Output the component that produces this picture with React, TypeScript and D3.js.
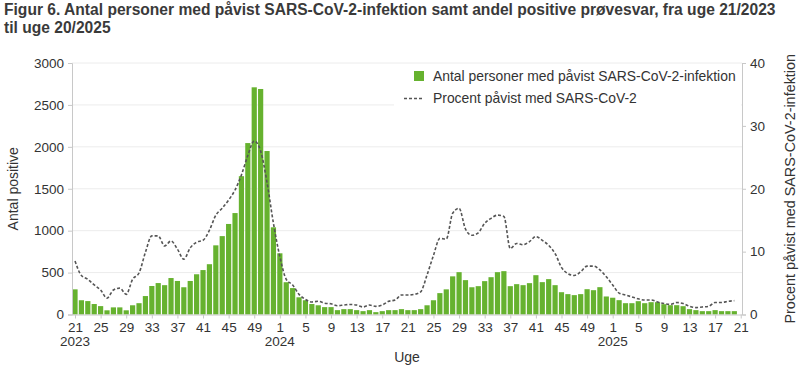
import * as d3 from "d3";
import { useEffect, useRef } from "react";

// weekly counts, week 21/2023 .. week 20/2025
const cases2023 = [
  300, 170, 160, 125, 100, 50, 85, 85, 50, 110, 135, 220, 340, 375, 350, 435,
  400, 325, 400, 480, 530, 600, 825, 935, 1080, 1210, 1650, 2045, 2710, 2690,
  1950, 1040,
];
const cases2024 = [
  730, 385, 315, 205, 170, 125, 110, 88, 88, 52, 64, 64, 52, 40, 52, 28, 40, 52,
  52, 64, 52, 52, 64, 110, 170, 255, 300, 455, 505, 410, 325, 338, 398, 445,
  505, 517, 338, 362, 350, 374, 469, 386, 422, 350, 266, 243, 231, 243, 302,
  290, 326, 215,
];
const cases2025 = [
  200, 171, 135, 135, 159, 135, 147, 147, 123, 111, 111, 99, 64, 52, 40, 40, 52,
  40, 40, 40,
];

// percent positive tests
const pct2023 = [
  8.5, 6.2, 5.6, 4.7, 3.9, 2.6, 3.9, 4.2, 3.2, 5.6, 6.6, 9.9, 12.5, 12.5, 10.9,
  11.7, 10.4, 8.8, 10.6, 11.5, 11.8, 13.4, 15.8, 16.9, 18.2, 19.8, 22.2, 25.3,
  27.6, 26.0, 21.0, 14.5,
];
const pct2024 = [
  9.2, 5.6, 4.7, 3.2, 2.4, 2.0, 2.1, 1.8, 1.7, 1.4, 1.5, 1.6, 1.5, 1.2, 1.5, 1.3,
  1.5, 2.1, 2.3, 3.1, 3.1, 3.2, 3.6, 6.3, 9.4, 12.1, 12.0, 16.1, 16.9, 13.6,
  12.6, 13.0, 14.5, 15.3, 15.8, 15.6, 10.5, 11.3, 11.1, 11.6, 12.4, 11.8, 11.0,
  9.7, 7.5, 6.5, 6.2, 6.8, 7.7, 7.7, 7.1, 6.0,
];
const pct2025 = [
  4.7, 3.4, 3.1, 2.8, 2.5, 2.3, 2.3, 2.0, 1.75, 1.6, 1.9, 1.75, 1.3, 1.1, 1.2,
  1.3, 1.9, 1.9, 2.1, 2.2,
];

const years = ["2023", "2024", "2025"];
const firstWeek2023 = 21;
const leftTicks = [0, 500, 1000, 1500, 2000, 2500, 3000];
const rightTicks = [0, 10, 20, 30, 40];

const titleLines = [
  "Figur 6. Antal personer med påvist SARS-CoV-2-infektion samt andel positive prøvesvar, fra uge 21/2023",
  "til uge 20/2025",
];
const legendBar = "Antal personer med påvist SARS-CoV-2-infektion";
const legendLine = "Procent påvist med SARS-CoV-2";

const FONT = "'Liberation Sans', Arial, sans-serif";
const TEXT = "#333";
const GREEN = "#66b22f";

export default function App() {
  const ref = useRef<SVGSVGElement>(null);

  useEffect(() => {
    const width = 800;
    const height = 372;
    const m = { left: 72, right: 742, top: 63, bottom: 314.5 };

    const cases = [...cases2023, ...cases2024, ...cases2025];
    const pct = [...pct2023, ...pct2024, ...pct2025];
    // week labels, including one extra trailing week (21/2025) for the last tick
    const weeks = [
      ...cases2023.map((_, i) => firstWeek2023 + i),
      ...cases2024.map((_, i) => i + 1),
      ...cases2025.map((_, i) => i + 1),
      cases2025.length + 1,
    ];
    const yearStart = [0, cases2023.length, cases2023.length + cases2024.length];

    const x = d3.scaleLinear().domain([-0.47, weeks.length - 0.8]).range([m.left, m.right]);
    const yL = d3.scaleLinear().domain([0, 3000]).range([m.bottom, m.top]);
    const yR = d3.scaleLinear().domain([0, 40]).range([m.bottom, m.top]);

    const svg = d3.select(ref.current);
    svg.selectAll("*").remove();
    svg.attr("font-family", FONT);

    // title
    svg
      .append("g")
      .selectAll("text")
      .data(titleLines)
      .join("text")
      .attr("x", 4)
      .attr("y", (_, i) => 15 + i * 18)
      .attr("font-size", 15.6)
      .attr("font-weight", "bold")
      .attr("fill", "#3a3a3a")
      .text((d) => d);

    // gridlines
    svg
      .append("g")
      .selectAll("line")
      .data(leftTicks.filter((d) => d > 0))
      .join("line")
      .attr("x1", m.left)
      .attr("x2", m.right)
      .attr("y1", (d) => yL(d))
      .attr("y2", (d) => yL(d))
      .attr("stroke", "#ececec")
      .attr("stroke-width", 1);

    // bars
    svg
      .append("g")
      .selectAll("rect")
      .data(cases)
      .join("rect")
      .attr("x", (_, i) => x(i) - 2.6)
      .attr("width", 5.2)
      .attr("y", (d) => yL(d))
      .attr("height", (d) => m.bottom - yL(d))
      .attr("fill", GREEN);

    // percent line
    const line = d3
      .line<number>()
      .x((_, i) => x(i))
      .y((d) => yR(d))
      .curve(d3.curveMonotoneX);
    svg
      .append("path")
      .attr("d", line(pct))
      .attr("fill", "none")
      .attr("stroke", "#555")
      .attr("stroke-width", 1.6)
      .attr("stroke-dasharray", "3,2");

    // left axis
    const gL = svg
      .append("g")
      .attr("transform", `translate(${m.left},0)`)
      .call(
        d3.axisLeft(yL).tickValues(leftTicks).tickFormat(d3.format("d")).tickSize(4).tickPadding(4)
      );
    // right axis
    const gR = svg
      .append("g")
      .attr("transform", `translate(${m.right},0)`)
      .call(
        d3.axisRight(yR).tickValues(rightTicks).tickFormat(d3.format("d")).tickSize(4).tickPadding(4)
      );
    // x axis
    const gX = svg
      .append("g")
      .attr("transform", `translate(0,${m.bottom})`)
      .call(
        d3
          .axisBottom(x)
          .tickValues(d3.range(0, weeks.length, 4))
          .tickFormat((i) => String(weeks[i as number]))
          .tickSize(4)
          .tickPadding(4)
      );
    gX.select(".domain").attr("d", `M${m.left},0.5H${m.right}`);

    [gL, gR, gX].forEach((g) => {
      g.select(".domain").attr("stroke", "#c8c8c8");
      g.selectAll(".tick line").attr("stroke", "#c8c8c8");
      g.selectAll(".tick text")
        .attr("fill", TEXT)
        .attr("font-size", 13.5)
        .attr("font-family", FONT);
    });

    // year labels
    svg
      .append("g")
      .selectAll("text")
      .data(years)
      .join("text")
      .attr("x", (_, i) => x(yearStart[i]))
      .attr("y", 346)
      .attr("text-anchor", "middle")
      .attr("font-size", 13.5)
      .attr("fill", TEXT)
      .text((d) => d);

    // axis titles
    svg
      .append("text")
      .attr("x", (m.left + m.right) / 2)
      .attr("y", 362)
      .attr("text-anchor", "middle")
      .attr("font-size", 14)
      .attr("fill", TEXT)
      .text("Uge");
    svg
      .append("text")
      .attr("transform", `translate(18,${(m.top + m.bottom) / 2}) rotate(-90)`)
      .attr("text-anchor", "middle")
      .attr("font-size", 14)
      .attr("fill", TEXT)
      .text("Antal positive");
    svg
      .append("text")
      .attr("transform", `translate(795,${(m.top + m.bottom) / 2}) rotate(-90)`)
      .attr("text-anchor", "middle")
      .attr("font-size", 14.4)
      .attr("fill", TEXT)
      .text("Procent påvist med SARS-CoV-2-infektion");

    // legend
    const lg = svg.append("g");
    lg.append("rect")
      .attr("x", 394)
      .attr("y", 65)
      .attr("width", m.right - 395)
      .attr("height", 45)
      .attr("fill", "white");
    lg.append("rect")
      .attr("x", 414)
      .attr("y", 71)
      .attr("width", 10)
      .attr("height", 10)
      .attr("fill", GREEN);
    lg.append("line")
      .attr("x1", 404)
      .attr("x2", 424)
      .attr("y1", 98.5)
      .attr("y2", 98.5)
      .attr("stroke", "#555")
      .attr("stroke-width", 1.6)
      .attr("stroke-dasharray", "3,2");
    lg.append("text")
      .attr("x", 433)
      .attr("y", 81)
      .attr("font-size", 13.9)
      .attr("fill", TEXT)
      .text(legendBar);
    lg.append("text")
      .attr("x", 433)
      .attr("y", 103)
      .attr("font-size", 13.9)
      .attr("fill", TEXT)
      .text(legendLine);

    svg.attr("width", width).attr("height", height);
  }, []);

  return (
    <svg
      ref={ref}
      width={800}
      height={372}
      style={{ position: "absolute", left: 0, top: 0, background: "white" }}
    />
  );
}
